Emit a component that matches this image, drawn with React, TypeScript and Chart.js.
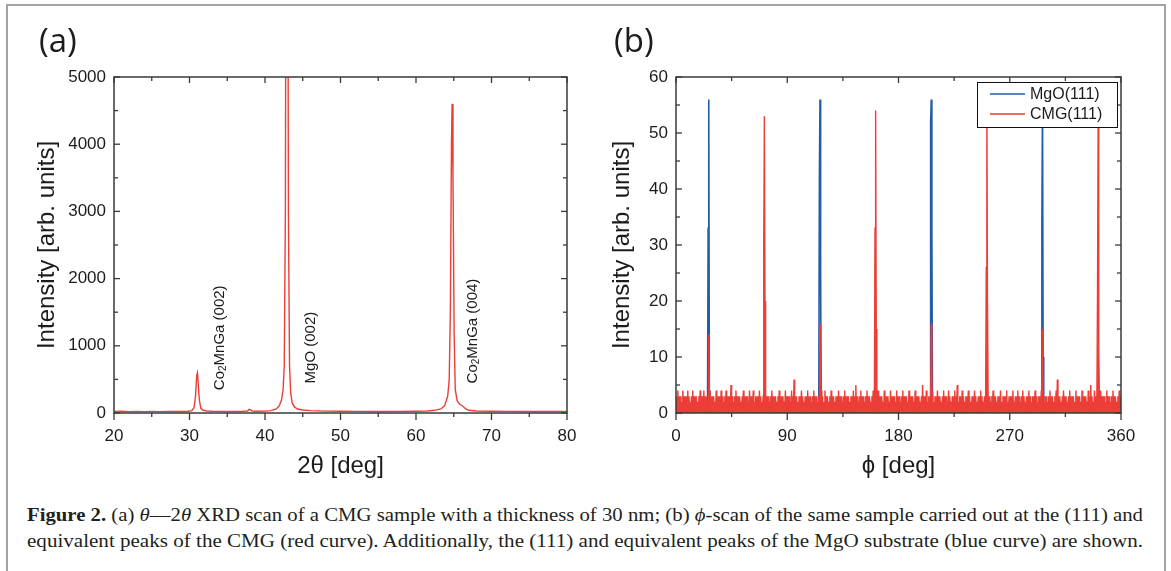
import React, { useEffect, useLayoutEffect, useRef } from "react";
import { Chart, registerables } from "chart.js";
Chart.register(...registerables);

const SANS = '"Liberation Sans", Arial, Helvetica, sans-serif';
const SERIF = '"Liberation Serif", "Times New Roman", serif';
const RED = "rgb(236,62,55)";
const BLUE = "rgb(36,92,170)";
const AXIS = "#3a3a3a";
const TEXT = "#1c1c1c";

// ---------- panel (a): theta-2theta XRD scan ----------
const twoTheta = [
  20, 21, 22, 23, 24, 25, 26, 27, 28, 29, 29.8, 30.3, 30.6, 30.8, 30.95, 31.05, 31.15, 31.3, 31.5, 31.8,
  32.3, 33, 34, 35, 36, 37, 37.7, 37.9, 38.05, 38.3, 39, 40, 40.8, 41.5, 41.9, 42.2, 42.4, 42.55, 42.7, 42.8,
  43.0, 43.1, 43.25, 43.4, 43.6, 43.9, 44.3, 45, 46, 48, 50, 52, 54, 56, 58, 60, 61.5, 62.5, 63.3, 63.8,
  64.2, 64.4, 64.55, 64.7, 64.78, 64.9, 65.05, 65.2, 65.45, 65.8, 66.2, 66.6, 67, 68, 70, 72, 74, 76, 78, 80,
];
const xrdIntensity = [
  22, 25, 20, 24, 21, 23, 20, 22, 24, 23, 26, 35, 80, 250, 560, 600, 450, 200, 70, 40,
  30, 26, 24, 22, 23, 25, 30, 55, 50, 30, 25, 28, 35, 60, 110, 200, 350, 700, 3000, 9000,
  9000, 3000, 700, 300, 150, 90, 60, 45, 35, 28, 25, 24, 22, 23, 24, 26, 30, 40, 60, 110,
  250, 500, 1500, 4000, 4600, 3500, 1200, 350, 180, 130, 100, 60, 40, 30, 25, 24, 22, 23, 22, 23,
];
const xrdXMajor = [20, 30, 40, 50, 60, 70, 80];
const xrdXMinor = [25, 35, 45, 55, 65, 75];
const xrdYMajor = [0, 1000, 2000, 3000, 4000, 5000];
const xrdYMinor = [500, 1500, 2500, 3500, 4500];
const peakLabels = ["Co|2|MnGa (002)", "MgO (002)", "Co|2|MnGa (004)"];
const peakLabelX = [34.0, 46.1, 67.5];
const peakLabelY = [340, 440, 440];

// ---------- panel (b): phi scan (0.5 deg steps) ----------
const PHI_STEP = 0.5;
const cmgNoise = [
  0,3,0,4,1,3,0,3,0,2, 0,4,1,3,0,3,0,3,1,4, 0,3,0,2,0,3,0,4,1,3, 0,3,0,3,0,2,1,3,0,4,
  0,3,1,3,0,4,0,3,0,3, 1,2,0,3,0,4,0,3,1,3, 0,3,0,2,0,4,1,3,0,3, 0,3,0,4,1,3,0,2,0,3,
  0,4,0,3,1,3,0,3,0,5, 0,3,1,2,0,3,0,4,0,3, 1,3,0,3,0,2,0,3,1,4, 0,3,0,3,0,3,1,2,0,4,
  0,3,0,3,1,4,0,2,0,3, 0,3,1,3,0,4,0,3,0,2, 1,3,0,3,0,4,0,3,1,3, 0,2,0,3,0,4,1,3,0,3,
  1,3,0,2,0,3,0,4,1,3, 0,3,0,3,0,2,1,4,0,3, 0,3,0,3,1,2,0,4,0,3, 0,6,1,3,0,3,0,2,0,3,
  0,3,1,4,0,3,0,2,0,3, 1,3,0,4,0,3,0,3,1,2, 0,3,0,4,0,3,1,3,0,2, 0,3,0,3,1,4,0,3,0,2,
  0,4,0,3,1,3,0,2,0,3, 0,4,1,3,0,3,0,2,0,3, 1,3,0,4,0,3,0,3,1,2, 0,3,0,4,0,3,1,3,0,3,
  0,2,1,3,0,3,0,4,0,3, 1,5,0,3,0,2,0,3,1,4, 0,3,0,3,0,2,1,3,0,4, 0,3,0,3,1,2,0,3,0,4,
  0,3,0,3,1,2,0,4,0,3, 0,3,1,3,0,2,0,4,0,3, 1,3,0,3,0,2,0,4,1,3, 0,3,0,3,0,2,1,4,0,3,
  0,3,1,2,0,3,0,4,0,3, 1,3,0,3,0,2,0,4,1,3, 0,3,0,3,0,2,1,4,0,3, 0,3,1,3,0,2,0,3,0,5,
  1,3,0,3,0,4,0,2,1,3, 0,3,0,3,0,4,1,2,0,3, 0,3,0,4,1,3,0,3,0,2, 0,3,1,4,0,3,0,3,0,2,
  0,4,1,3,0,2,0,3,0,3, 1,4,0,3,0,5,0,2,1,3, 0,3,0,4,0,3,1,2,0,3, 0,3,0,4,1,3,0,2,0,3,
  0,3,0,4,1,3,0,2,0,3, 0,3,1,4,0,3,0,2,0,3, 1,3,0,4,0,3,0,3,1,2, 0,3,0,4,0,3,1,3,0,2,
  0,3,1,3,0,4,0,2,0,3, 1,3,0,3,0,4,0,2,1,3, 0,3,0,3,0,4,1,2,0,3, 0,3,1,4,0,3,0,2,0,3,
  1,4,0,3,0,2,0,3,1,3, 0,4,0,3,0,2,1,3,0,3, 0,4,0,3,1,2,0,3,0,3, 0,4,1,3,0,2,0,3,0,3,
  0,2,0,3,1,4,0,3,0,3, 1,2,0,3,0,4,0,6,1,3, 0,3,0,2,0,3,1,4,0,3, 0,3,0,2,1,3,0,4,0,3,
  0,3,1,3,0,2,0,4,0,3, 1,3,0,3,0,2,0,4,1,3, 0,3,0,3,1,2,0,4,0,3, 0,5,1,3,0,2,0,4,0,3,
  1,3,0,2,0,3,0,4,1,3, 0,3,0,3,0,2,1,4,0,3, 0,3,0,2,1,3,0,4,0,3, 0,3,1,2,0,3,0,4,0,3,
  0,
];
const cmgPeakPhi = [26.5, 71, 71.5, 72, 116.5, 161, 161.5, 162, 206.5, 251, 251.5, 252, 296.5, 341, 341.5, 342];
const cmgPeakVal = [14, 30, 53, 20, 16, 33, 54, 15, 16, 26, 55, 20, 15, 21, 52, 12];
const mgoPhi = [0, 25.5, 26, 26.5, 27, 27.5, 70, 71.5, 73, 115.5, 116, 116.5, 117, 117.5, 160, 161.5, 163,
  205.5, 206, 206.5, 207, 207.5, 250, 251.5, 253, 295.5, 296, 296.5, 297, 297.5, 340, 341.5, 343, 360];
const mgoVal = [0, 0, 33, 56, 4, 0, 0, 1, 0, 0, 42, 56, 25, 0, 0, 1, 0,
  0, 52, 56, 33, 0, 0, 1, 0, 0, 33, 56, 10, 0, 0, 1, 0, 0];
const phiXMajor = [0, 90, 180, 270, 360];
const phiXMinor = [45, 135, 225, 315];
const phiYMajor = [0, 10, 20, 30, 40, 50, 60];
const phiYMinor = [5, 15, 25, 35, 45, 55];
const legendLabels = ["MgO(111)", "CMG(111)"];

function framePlugin(xMaj: number[], xMin: number[], yMaj: number[], yMin: number[]) {
  return {
    id: "frame",
    afterDatasetsDraw(chart: any) {
      const { ctx, chartArea: a, scales } = chart;
      const xs = scales.x, ys = scales.y;
      ctx.save();
      ctx.strokeStyle = AXIS;
      ctx.lineWidth = 1.5;
      ctx.strokeRect(a.left, a.top, a.right - a.left, a.bottom - a.top);
      ctx.lineWidth = 1.3;
      const seg = (x1: number, y1: number, x2: number, y2: number) => {
        ctx.beginPath(); ctx.moveTo(x1, y1); ctx.lineTo(x2, y2); ctx.stroke();
      };
      xMaj.forEach((v) => { const p = xs.getPixelForValue(v); seg(p, a.bottom, p, a.bottom + 7); seg(p, a.top, p, a.top + 6); });
      xMin.forEach((v) => { const p = xs.getPixelForValue(v); seg(p, a.bottom, p, a.bottom + 4); seg(p, a.top, p, a.top + 4); });
      yMaj.forEach((v) => { const p = ys.getPixelForValue(v); seg(a.left, p, a.left + 6, p); seg(a.right, p, a.right - 6, p); });
      yMin.forEach((v) => { const p = ys.getPixelForValue(v); seg(a.left, p, a.left + 4, p); seg(a.right, p, a.right - 4, p); });
      ctx.restore();
    },
  };
}

const peakLabelPlugin = {
  id: "peakLabels",
  afterDatasetsDraw(chart: any) {
    const { ctx, scales } = chart;
    ctx.save();
    ctx.fillStyle = TEXT;
    ctx.textBaseline = "middle";
    ctx.textAlign = "left";
    peakLabels.forEach((lab, i) => {
      const px = scales.x.getPixelForValue(peakLabelX[i]);
      const py = scales.y.getPixelForValue(peakLabelY[i]);
      ctx.save();
      ctx.translate(px, py);
      ctx.rotate(-Math.PI / 2);
      const parts = lab.split("|");
      let cx = 0;
      parts.forEach((p, k) => {
        const sub = k === 1;
        ctx.font = `${sub ? 10 : 15}px ${SANS}`;
        ctx.fillText(p, cx, sub ? 4 : 0);
        cx += ctx.measureText(p).width;
      });
      ctx.restore();
    });
    ctx.restore();
  },
};

const legendPlugin = {
  id: "insideLegend",
  afterDraw(chart: any) {
    const { ctx } = chart;
    const x0 = 387, y0 = 82, w = 140, h = 45;
    ctx.save();
    ctx.fillStyle = "#fff";
    ctx.fillRect(x0, y0, w, h);
    ctx.strokeStyle = "#111";
    ctx.lineWidth = 1;
    ctx.strokeRect(x0 + 0.5, y0 + 0.5, w, h);
    const colors = [BLUE, "rgb(240,105,100)"];
    const widths = [1.5, 2.2];
    legendLabels.forEach((lab, i) => {
      const y = y0 + 12 + i * 20;
      ctx.strokeStyle = colors[i];
      ctx.lineWidth = widths[i];
      ctx.beginPath(); ctx.moveTo(x0 + 13, y); ctx.lineTo(x0 + 48, y); ctx.stroke();
      ctx.fillStyle = TEXT;
      ctx.font = `16px ${SANS}`;
      ctx.textBaseline = "middle";
      ctx.fillText(lab, x0 + 53, y + 1);
    });
    ctx.restore();
  },
};

const tickFont = { family: SANS, size: 17 };
const titleFont = { family: SANS, size: 24 };

function makeScales(opts: any) {
  return {
    x: {
      type: "linear", min: opts.xmin, max: opts.xmax,
      afterFit: (s: any) => { s.height = 77; },
      grid: { display: false, drawTicks: false },
      border: { display: false },
      afterBuildTicks: (s: any) => { s.ticks = opts.xMajor.map((v: number) => ({ value: v })); },
      ticks: { padding: 13, font: tickFont, color: TEXT, maxRotation: 0, autoSkip: false, callback: (v: any) => String(v) },
      title: { display: true, text: opts.xTitle, font: titleFont, color: TEXT, padding: { top: 0, bottom: 9 } },
    },
    y: {
      type: "linear", min: opts.ymin, max: opts.ymax,
      afterFit: (s: any) => { s.width = opts.yWidth; },
      grid: { display: false, drawTicks: false },
      border: { display: false },
      afterBuildTicks: (s: any) => { s.ticks = opts.yMajor.map((v: number) => ({ value: v })); },
      ticks: { padding: 8, font: tickFont, color: TEXT, autoSkip: false, callback: (v: any) => String(v) },
      title: { display: true, text: "Intensity [arb. units]", font: titleFont, color: TEXT, padding: { top: opts.yTitlePad, bottom: 0 } },
    },
  };
}

function PanelA() {
  const ref = useRef<HTMLCanvasElement>(null);
  useEffect(() => {
    const chart = new Chart(ref.current as HTMLCanvasElement, {
      type: "line",
      data: {
        datasets: [{
          data: twoTheta.map((x, i) => ({ x, y: xrdIntensity[i] })),
          borderColor: RED, borderWidth: 1.4, pointRadius: 0, tension: 0, fill: false,
        }],
      },
      options: {
        animation: false, responsive: false, devicePixelRatio: 1,
        layout: { padding: { left: 0, top: 77, right: 23, bottom: 0 } },
        plugins: { legend: { display: false }, tooltip: { enabled: false } },
        scales: makeScales({ xmin: 20, xmax: 80, ymin: 0, ymax: 5000, xMajor: xrdXMajor, yMajor: xrdYMajor, yWidth: 114, yTitlePad: 33, xTitle: "2θ [deg]" }),
      } as any,
      plugins: [framePlugin(xrdXMajor, xrdXMinor, xrdYMajor, xrdYMinor), peakLabelPlugin],
    });
    return () => chart.destroy();
  }, []);
  return <canvas ref={ref} width={590} height={490} style={{ position: "absolute", left: 0, top: 0 }} />;
}

function PanelB() {
  const ref = useRef<HTMLCanvasElement>(null);
  useEffect(() => {
    const cmgData = cmgNoise.map((v, i) => {
      const x = i * PHI_STEP;
      const k = cmgPeakPhi.indexOf(x);
      return { x, y: k >= 0 ? cmgPeakVal[k] : v };
    });
    const chart = new Chart(ref.current as HTMLCanvasElement, {
      type: "line",
      data: {
        datasets: [
          { label: "CMG(111)", data: cmgData, borderColor: RED, backgroundColor: RED, borderWidth: 1.4, pointRadius: 0, tension: 0, fill: "origin", order: 0 },
          { label: "MgO(111)", data: mgoPhi.map((x, i) => ({ x, y: mgoVal[i] })), borderColor: BLUE, borderWidth: 1.6, pointRadius: 0, tension: 0, fill: false, order: 1 },
        ],
      },
      options: {
        animation: false, responsive: false, devicePixelRatio: 1,
        layout: { padding: { left: 0, top: 77, right: 50, bottom: 0 } },
        plugins: { legend: { display: false }, tooltip: { enabled: false }, filler: { propagate: false } },
        scales: makeScales({ xmin: 0, xmax: 360, ymin: 0, ymax: 60, xMajor: phiXMajor, yMajor: phiYMajor, yWidth: 86, yTitlePad: 18, xTitle: "ϕ [deg]" }),
      } as any,
      plugins: [framePlugin(phiXMajor, phiXMinor, phiYMajor, phiYMinor), legendPlugin],
    });
    return () => chart.destroy();
  }, []);
  return <canvas ref={ref} width={581} height={490} style={{ position: "absolute", left: 590, top: 0 }} />;
}

export default function App() {
  const l1 = useRef<HTMLSpanElement>(null);
  const l2 = useRef<HTMLSpanElement>(null);
  useLayoutEffect(() => {
    [l1, l2].forEach((r) => {
      const el = r.current;
      if (!el) return;
      el.style.transform = "none";
      const w = el.getBoundingClientRect().width;
      el.style.transform = `scaleX(${1116 / w})`;
    });
  }, []);
  return (
    <div style={{ position: "fixed", left: 0, top: 0, width: 1171, height: 571, background: "#fff", overflow: "hidden" }}>
      <div style={{ position: "absolute", left: 6, top: 4, width: 1156, height: 600, border: "2px solid #a3a3a3" }} />
      <PanelA />
      <PanelB />
      <div style={{ position: "absolute", left: 39, top: 17, fontFamily: '"Open Sans", sans-serif', fontSize: 33, color: TEXT }}>(a)</div>
      <div style={{ position: "absolute", left: 614, top: 17, fontFamily: '"Open Sans", sans-serif', fontSize: 33, color: TEXT }}>(b)</div>
      <div style={{ position: "absolute", left: 27, top: 502, fontFamily: SERIF, fontSize: 19, lineHeight: "26px", color: "#231f20", whiteSpace: "nowrap" }}>
        <span ref={l1} style={{ display: "inline-block", transformOrigin: "left center" }}>
          <b>Figure 2.</b> (a) <i>θ</i>—2<i>θ</i> XRD scan of a CMG sample with a thickness of 30 nm; (b) <i>ϕ</i>-scan of the same sample carried out at the (111) and
        </span>
        <br />
        <span ref={l2} style={{ display: "inline-block", transformOrigin: "left center" }}>
          equivalent peaks of the CMG (red curve). Additionally, the (111) and equivalent peaks of the MgO substrate (blue curve) are shown.
        </span>
      </div>
    </div>
  );
}
